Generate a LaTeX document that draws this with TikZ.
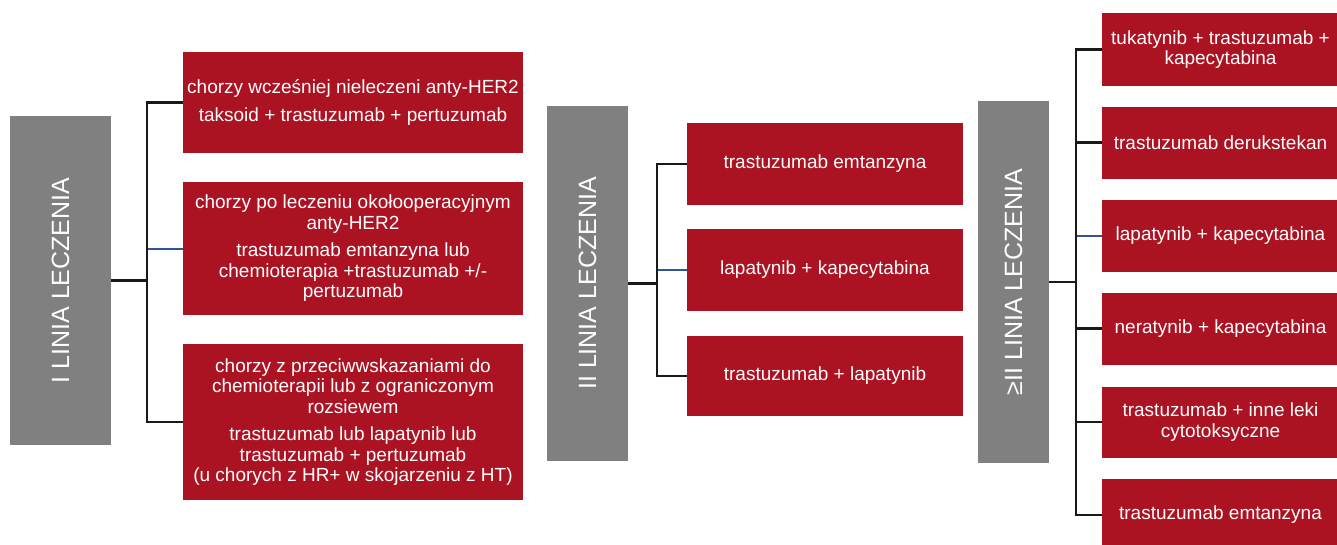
\documentclass[tikz,border=0pt]{standalone}
\usepackage{fontspec}
\setmainfont{Liberation Sans}
\usepackage{tikz}
\usepackage{xcolor}
\definecolor{drugred}{RGB}{172,19,34}
\definecolor{stepgray}{RGB}{128,128,128}
\definecolor{linkblue}{RGB}{47,85,151}

\begin{document}
\begin{tikzpicture}[x=1pt, y=-1pt,
  line node/.style={fill=stepgray, text=white, rotate=90, inner sep=0pt, font=\fontsize{25}{28}\selectfont},
  drug node/.style={fill=drugred, text=white, align=center, inner sep=0pt, font=\fontsize{19}{20.5}\selectfont},
  link/.style={line width=2.4pt, black!90},
  blue link/.style={line width=2pt, linkblue}]
\useasboundingbox (0,0) rectangle (1337,544);

% linie leczenia (rotated, so south = right side)
\node[line node, minimum width=329, minimum height=101] (g1) at (60.5,280.5) {I LINIA LECZENIA};
\node[line node, minimum width=355, minimum height=81] (g2) at (587.5,283.5) {II LINIA LECZENIA};
\node[line node, minimum width=362, minimum height=71] (g3) at (1013.5,282) {≥II LINIA LECZENIA};

% I linia
\node[drug node, minimum width=340, minimum height=101] (a1) at (353,102.5) {chorzy wcześniej nieleczeni anty-HER2\\[7pt]taksoid + trastuzumab + pertuzumab};
\node[drug node, minimum width=340, minimum height=133] (a2) at (353,248.5) {chorzy po leczeniu okołooperacyjnym\\anty-HER2\\[7pt]trastuzumab emtanzyna lub\\chemioterapia +trastuzumab +/-\\pertuzumab};
\node[drug node, minimum width=340, minimum height=156] (a3) at (353,422) {chorzy z przeciwwskazaniami do\\chemioterapii lub z ograniczonym\\rozsiewem\\[7pt]trastuzumab lub lapatynib lub\\trastuzumab + pertuzumab\\(u chorych z HR+ w skojarzeniu z HT)};

% II linia
\node[drug node, minimum width=276, minimum height=82] (b1) at (825,164) {trastuzumab emtanzyna};
\node[drug node, minimum width=276, minimum height=82] (b2) at (825,270) {lapatynib + kapecytabina};
\node[drug node, minimum width=276, minimum height=80] (b3) at (825,376) {trastuzumab + lapatynib};

% >=II linia
\node[drug node, minimum width=237, minimum height=73] (c1) at (1220.5,49.5) {tukatynib + trastuzumab +\\kapecytabina};
\node[drug node, minimum width=237, minimum height=72] (c2) at (1220.5,142.5) {trastuzumab derukstekan};
\node[drug node, minimum width=237, minimum height=72] (c3) at (1220.5,236) {lapatynib + kapecytabina};
\node[drug node, minimum width=237, minimum height=72] (c4) at (1220.5,328.5) {neratynib + kapecytabina};
\node[drug node, minimum width=237, minimum height=71] (c5) at (1220.5,422) {trastuzumab + inne leki\\cytotoksyczne};
\node[drug node, minimum width=237, minimum height=72] (c6) at (1220.5,515) {trastuzumab emtanzyna};

\draw[blue link] (g1.south) -- ++(36,0) |- (a2.west);
\draw[link] (g1.south) -- ++(36,0) |- (a1.west);
\draw[link] (g1.south) -- ++(36,0) |- (a3.west);

\draw[blue link] (g2.south) -- ++(29,0) |- (b2.west);
\draw[link] (g2.south) -- ++(29,0) |- (b1.west);
\draw[link] (g2.south) -- ++(29,0) |- (b3.west);

\draw[blue link] (g3.south) -- ++(27,0) |- (c3.west);
\foreach \n in {c1,c2,c4,c5,c6}
  \draw[link] (g3.south) -- ++(27,0) |- (\n.west);
\end{tikzpicture}
\end{document}
